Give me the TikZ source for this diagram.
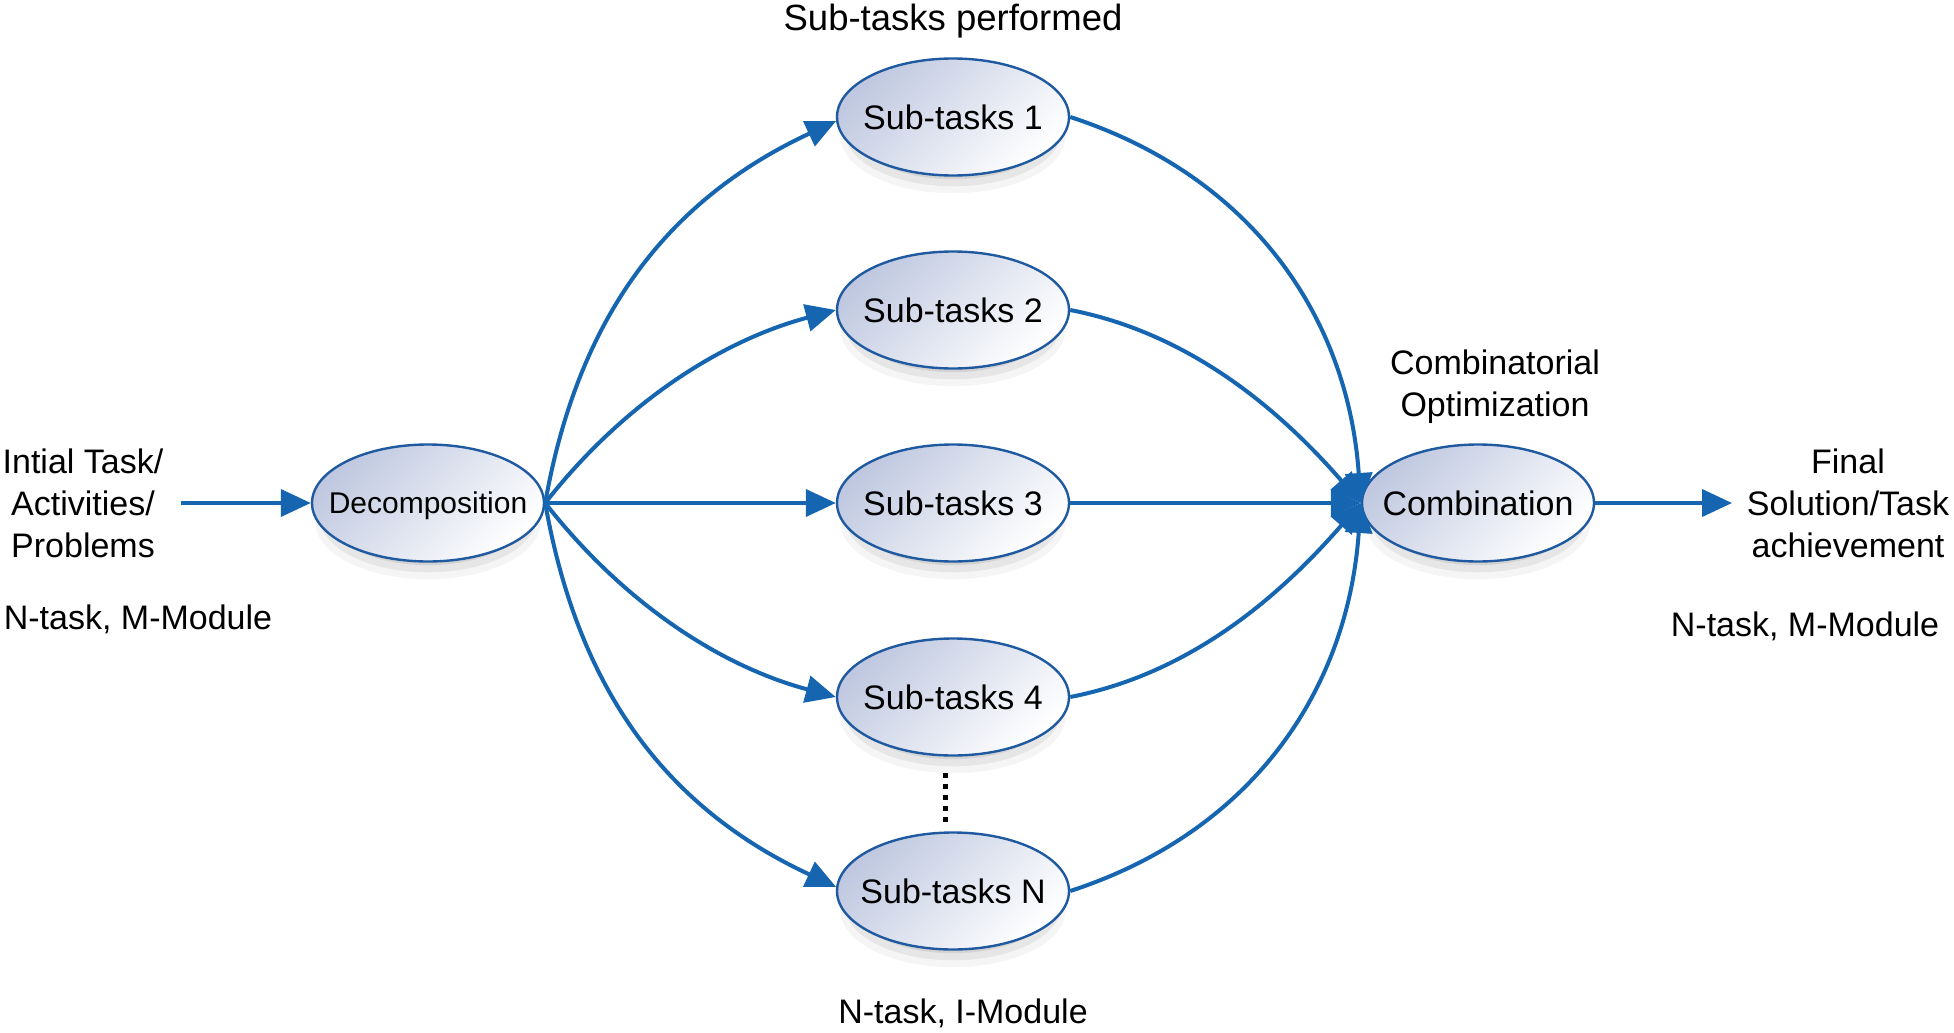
\documentclass[tikz,border=0pt]{standalone}
\usepackage{fontspec}
\setmainfont{Liberation Sans}
\usetikzlibrary{shapes.geometric,shadows,arrows.meta}
\definecolor{arr}{HTML}{1565B0}
\definecolor{edgec}{HTML}{1F5AA0}
\definecolor{fillA}{HTML}{BFC8E0}
\newcommand\zbox[1]{\makebox[0pt]{#1}}
\begin{document}
\begin{tikzpicture}[x=1pt,y=-1pt,
  bub/.style={ellipse, draw=edgec, line width=2.4pt, minimum width=232pt, minimum height=117pt, inner sep=0pt,
    text depth=0pt,
    top color=fillA, bottom color=white, shading angle=45,
    general shadow={fill=black, opacity=.04, shadow yshift=-20pt, shadow scale=.97},
    general shadow={fill=black, opacity=.06, shadow yshift=-16pt, shadow scale=.93},
    general shadow={fill=black, opacity=.08, shadow yshift=-13pt, shadow scale=.87},
    general shadow={fill=black, opacity=.08, shadow yshift=-10pt, shadow scale=.80},
    font=\fontsize{34}{40}\selectfont},
  con/.style={draw=arr, line width=4pt, -{Triangle[length=30pt,width=27pt]}},
  lab/.style={font=\fontsize{34}{42}\selectfont, align=center, inner sep=0pt}]
\useasboundingbox (0,0) rectangle (1954,1033);
\fill[white] (0,0) rectangle (1954,1033);

\node[bub] (dec) at (428,503) {\fontsize{30}{36}\selectfont\zbox{Decomposition}};
\node[bub] (s1) at (953,117) {\zbox{Sub-tasks 1}};
\node[bub] (s2) at (953,310) {\zbox{Sub-tasks 2}};
\node[bub] (s3) at (953,503) {\zbox{Sub-tasks 3}};
\node[bub] (s4) at (953,697) {\zbox{Sub-tasks 4}};
\node[bub] (sN) at (953,891) {\zbox{Sub-tasks N}};
\node[bub] (comb) at (1478,503) {\zbox{Combination}};

\node[lab, font=\fontsize{36.5}{42}\selectfont] (top) at (953,21) {Sub-tasks performed};
\node[lab] (in) at (83,503) {Intial Task/\\Activities/\\Problems};
\node[lab] (nm1) at (138,619) {N-task, M-Module};
\node[lab] (co) at (1495,387) {Combinatorial\\Optimization};
\node[lab] (fin) at (1848,503) {Final\\Solution/Task\\achievement};
\node[lab] (nm2) at (1805,626) {N-task, M-Module};
\node[lab] (ni) at (963,1013) {N-task, I-Module};

\coordinate (inA) at (181,503);
\coordinate (outB) at (1732,503);
\draw[con] (inA) -- (dec.west);
\draw[con] (comb.east) -- (outB);

\draw[con] (dec.east) to[out=80,in=205,looseness=1.0] (s1.182);
\draw[con] (dec.east) to[out=52,in=195,looseness=0.9] (s2.west);
\draw[con] (dec.east) -- (s3.west);
\draw[con] (dec.east) to[out=-52,in=165,looseness=0.9] (s4.west);
\draw[con] (dec.east) to[out=-80,in=155,looseness=1.0] (sN.178);

\draw[con] (s1.east) to[out=-18,in=94,looseness=1.0] (comb.west);
\draw[con] (s2.east) to[out=-11,in=131,looseness=0.9] (comb.west);
\draw[con] (s3.east) -- (comb.west);
\draw[con] (s4.east) to[out=11,in=229,looseness=0.9] (comb.west);
\draw[con] (sN.east) to[out=18,in=266,looseness=1.0] (comb.west);

\coordinate (d1) at (945,773);
\coordinate (d2) at (945,823);
\draw[line width=5pt, dash pattern=on 5pt off 6pt] (d1) -- (d2);
\end{tikzpicture}
\end{document}
